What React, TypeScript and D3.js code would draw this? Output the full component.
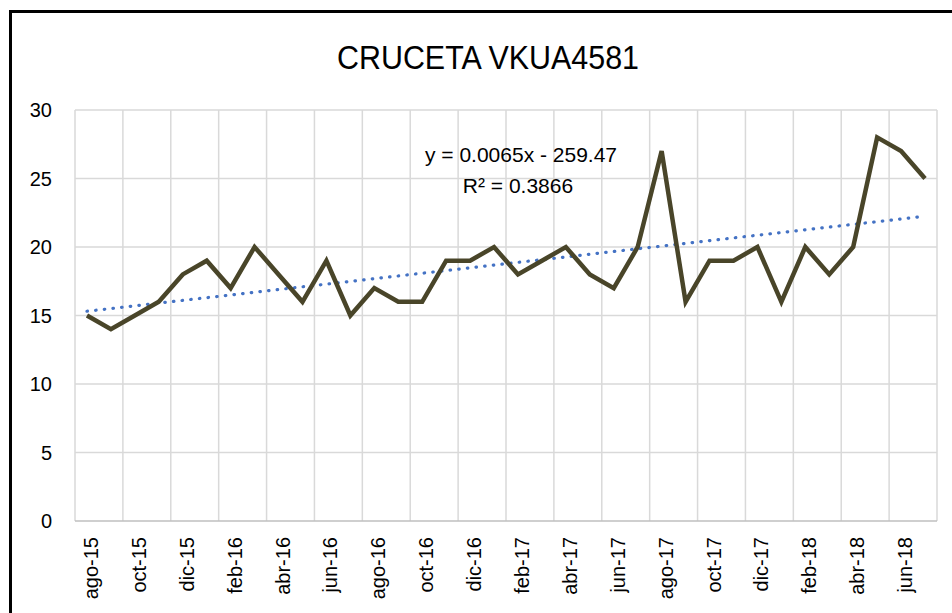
import React, { useEffect, useRef } from "react";
import * as d3 from "d3";

// monthly readings, ago-15 .. jul-18
const months = [
  "ago-15", "sep-15", "oct-15", "nov-15", "dic-15", "ene-16",
  "feb-16", "mar-16", "abr-16", "may-16", "jun-16", "jul-16",
  "ago-16", "sep-16", "oct-16", "nov-16", "dic-16", "ene-17",
  "feb-17", "mar-17", "abr-17", "may-17", "jun-17", "jul-17",
  "ago-17", "sep-17", "oct-17", "nov-17", "dic-17", "ene-18",
  "feb-18", "mar-18", "abr-18", "may-18", "jun-18", "jul-18",
];
const values = [
  15, 14, 15, 16, 18, 19,
  17, 20, 18, 16, 19, 15,
  17, 16, 16, 19, 19, 20,
  18, 19, 20, 18, 17, 20,
  27, 16, 19, 19, 20, 16,
  20, 18, 20, 28, 27, 25,
];
const yTicks = [0, 5, 10, 15, 20, 25, 30];
const title = "CRUCETA VKUA4581";
const trendEquation = "y = 0.0065x - 259.47";
const trendR2 = "R² = 0.3866";

const W = 952;
const H = 613;
const FONT = "'Liberation Sans', Arial, sans-serif";

export default function App() {
  const svgRef = useRef<SVGSVGElement>(null);

  useEffect(() => {
    const svg = d3.select(svgRef.current);
    svg.selectAll("*").remove();

    const left = 75, right = 937, top = 110, bottom = 521;

    const x = d3.scaleBand<string>().domain(months).range([left, right]).padding(0);
    const bw = x.bandwidth();
    const cx = (m: string) => (x(m) as number) + bw / 2;
    const y = d3.scaleLinear().domain([0, 30]).range([bottom, top]);

    svg.append("rect").attr("width", W).attr("height", H).attr("fill", "#fff");

    // outer chart border (runs off the right/bottom edges)
    svg.append("rect")
      .attr("x", 10.5).attr("y", 11.5)
      .attr("width", W + 20).attr("height", H + 20)
      .attr("fill", "none").attr("stroke", "#000").attr("stroke-width", 3);

    // horizontal gridlines
    svg.append("g").selectAll("line")
      .data(yTicks.filter(t => t > 0))
      .join("line")
      .attr("x1", left).attr("x2", right)
      .attr("y1", d => y(d)).attr("y2", d => y(d))
      .attr("stroke", "#d9d9d9").attr("stroke-width", 1.5);

    // vertical gridlines every two months
    const vLines = months.filter((_, i) => i % 2 === 0).map(m => x(m) as number).concat([right]);
    svg.append("g").selectAll("line")
      .data(vLines)
      .join("line")
      .attr("x1", d => d).attr("x2", d => d)
      .attr("y1", top).attr("y2", bottom)
      .attr("stroke", "#d9d9d9").attr("stroke-width", 1.5);

    // x axis line
    svg.append("line")
      .attr("x1", left).attr("x2", right)
      .attr("y1", bottom).attr("y2", bottom)
      .attr("stroke", "#bfbfbf").attr("stroke-width", 1.5);

    // y tick labels
    svg.append("g").selectAll("text")
      .data(yTicks)
      .join("text")
      .attr("x", 52).attr("y", d => y(d) + 7)
      .attr("text-anchor", "end")
      .attr("font-family", FONT).attr("font-size", 20).attr("fill", "#000")
      .text(d => d);

    // x tick labels (rotated)
    svg.append("g").selectAll("text")
      .data(months.filter((_, i) => i % 2 === 0))
      .join("text")
      .attr("transform", d => `translate(${cx(d) + 11},537) rotate(-90)`)
      .attr("text-anchor", "end")
      .attr("font-family", FONT).attr("font-size", 20).attr("fill", "#000")
      .text(d => d);

    // linear trend (least squares over month index)
    const n = values.length;
    const idx = d3.range(n);
    const mx = d3.mean(idx) as number;
    const my = d3.mean(values) as number;
    const slope = d3.sum(idx, i => (i - mx) * (values[i] - my)) / d3.sum(idx, i => (i - mx) ** 2);
    const icpt = my - slope * mx;
    const trend = [0, n - 1].map(i => ({ m: months[i], v: icpt + slope * i }));

    svg.append("path")
      .datum(trend)
      .attr("d", d3.line<{ m: string; v: number }>().x(d => cx(d.m)).y(d => y(d.v)))
      .attr("fill", "none").attr("stroke", "#4472c4")
      .attr("stroke-width", 3.2).attr("stroke-linecap", "round")
      .attr("stroke-dasharray", "0.5 8.2");

    // data line
    svg.append("path")
      .datum(values)
      .attr("d", d3.line<number>().x((_, i) => cx(months[i])).y(d => y(d)))
      .attr("fill", "none").attr("stroke", "#494529")
      .attr("stroke-width", 4.5).attr("stroke-linejoin", "miter");

    // trend label
    svg.append("text")
      .attr("x", 521).attr("y", 162)
      .attr("text-anchor", "middle")
      .attr("font-family", FONT).attr("font-size", 21).attr("fill", "#000")
      .text(trendEquation);
    svg.append("text")
      .attr("x", 518).attr("y", 193)
      .attr("text-anchor", "middle")
      .attr("font-family", FONT).attr("font-size", 21).attr("fill", "#000")
      .text(trendR2);

    // title
    svg.append("text")
      .attr("x", 488).attr("y", 69)
      .attr("text-anchor", "middle")
      .attr("font-family", FONT).attr("font-size", 33)
      .attr("textLength", 302).attr("lengthAdjust", "spacingAndGlyphs")
      .attr("fill", "#000")
      .text(title);
  }, []);

  return (
    <svg
      ref={svgRef}
      width={W}
      height={H}
      style={{ position: "absolute", left: 0, top: 0, display: "block" }}
    />
  );
}
